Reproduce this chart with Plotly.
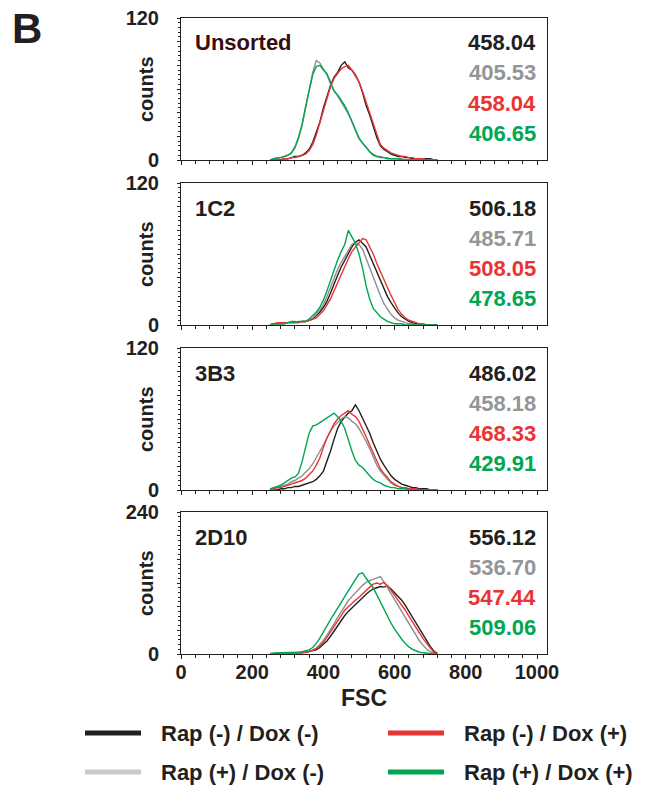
import plotly.graph_objects as go

FSC_BINS = list(range(250, 730, 10))  # 48 bins

PANELS = ["Unsorted", "1C2", "3B3", "2D10"]
Y_MAX = [120, 120, 120, 240]
SERIES = ["Rap (-) / Dox (-)", "Rap (+) / Dox (-)", "Rap (-) / Dox (+)", "Rap (+) / Dox (+)"]
MEANS = [
    ["458.04", "405.53", "458.04", "406.65"],
    ["506.18", "485.71", "508.05", "478.65"],
    ["486.02", "458.18", "468.33", "429.91"],
    ["556.12", "536.70", "547.44", "509.06"],
]

# counts per bin, panel by panel (black, gray, red, green)
UNS_BLACK = [0,0,0,0,1,1,2,3,3,4,6,9,15,23,32,44,53,63,70,74,80,83,78,76,72,66,57,46,38,28,19,12,9,7,5,4,3,3,2,2,1,1,1,1,1,1,0,0]
UNS_GRAY = [0,1,1,2,3,4,6,10,18,29,44,60,74,84,82,77,72,64,59,54,50,45,39,33,26,19,14,11,7,5,3,3,2,2,1,1,1,1,0,0,0,0,0,0,0,0,0,0]
UNS_RED = [0,0,0,0,1,1,2,2,3,4,5,8,13,21,31,42,52,62,69,73,77,79,80,76,71,66,58,49,39,29,20,13,10,8,6,5,4,3,3,2,2,1,1,1,0,0,0,0]
UNS_GREEN = [0,1,2,2,3,4,6,11,19,30,45,58,72,79,80,76,73,66,58,55,51,46,40,32,25,18,14,10,7,4,3,2,2,1,1,1,1,0,0,0,0,0,0,0,0,0,0,0]

C12_BLACK = [0,1,1,1,2,2,2,2,2,3,3,4,5,8,11,15,20,27,35,42,49,55,61,66,70,72,69,66,59,52,45,38,31,24,19,14,10,7,5,3,2,1,1,0,0,0,0,0]
C12_GRAY = [0,1,1,1,1,2,2,2,2,3,3,4,6,9,13,17,24,32,40,47,53,58,63,68,70,68,64,56,48,40,32,25,18,13,9,6,4,3,2,1,1,0,0,0,0,0,0,0]
C12_RED = [0,1,2,2,2,2,3,3,2,3,3,4,5,6,9,12,17,22,29,36,43,50,56,62,66,70,73,72,66,60,52,45,38,31,25,19,13,9,6,4,3,2,1,1,0,0,0,0]
C12_GREEN = [0,1,1,1,1,2,2,2,3,3,3,5,8,11,15,21,29,38,47,55,62,68,80,75,69,60,48,33,22,14,10,7,5,3,2,1,1,1,0,0,0,0,0,0,0,0,0,0]

B33_BLACK = [0,0,0,1,1,2,2,3,3,4,5,6,7,9,12,16,24,33,43,52,58,62,65,67,72,67,61,55,48,40,33,26,21,16,12,9,7,5,4,3,2,2,1,1,1,0,0,0]
B33_GRAY = [0,1,2,3,4,5,7,8,10,12,15,18,22,27,32,38,44,50,54,57,60,62,61,58,56,52,47,41,35,28,21,16,12,9,6,4,3,2,2,1,1,0,0,0,0,0,0,0]
B33_RED = [0,1,2,2,3,4,5,6,7,8,10,13,16,21,27,36,44,50,56,60,63,65,67,64,62,58,52,45,38,31,24,18,14,10,7,5,3,2,2,1,1,1,0,0,0,0,0,0]
B33_GREEN = [1,2,3,4,6,8,10,11,14,24,35,48,54,55,57,59,61,63,65,62,58,52,42,33,25,21,19,15,12,9,7,6,4,3,2,2,1,1,1,0,0,0,0,0,0,0,0,0]

D10_BLACK = [0,1,1,1,1,1,2,2,2,2,3,4,5,7,11,16,22,30,39,48,57,65,72,78,84,90,96,101,106,110,112,114,113,115,110,104,98,91,82,72,62,52,42,32,22,13,5,1]
D10_GRAY = [0,1,1,1,1,2,2,2,2,3,3,4,6,10,16,23,32,41,51,62,72,82,90,97,104,110,116,121,124,126,129,131,122,112,100,90,80,70,60,50,40,31,22,15,8,4,1,0]
D10_RED = [0,1,1,1,2,2,2,2,3,3,3,4,6,9,14,20,28,37,47,57,66,74,80,86,91,96,102,108,113,118,120,118,121,116,108,100,92,84,74,64,54,44,35,26,18,10,3,0]
D10_GREEN = [1,2,2,2,2,3,3,3,3,4,5,7,11,18,27,38,48,58,68,78,88,98,108,118,126,135,137,128,120,112,100,88,75,63,52,42,33,25,18,12,8,5,3,2,1,1,0,0]

COUNTS = [
    [UNS_BLACK, UNS_GRAY, UNS_RED, UNS_GREEN],
    [C12_BLACK, C12_GRAY, C12_RED, C12_GREEN],
    [B33_BLACK, B33_GRAY, B33_RED, B33_GREEN],
    [D10_BLACK, D10_GRAY, D10_RED, D10_GREEN],
]

LINE_COLORS = ["#231f20", "#8e8f92", "#ea3333", "#00a650"]
TEXT_COLORS = ["#231f20", "#939598", "#ea3333", "#00a650"]
LEGEND_COLORS = ["#231f20", "#c8c9cc", "#ea3333", "#00a650"]
LABEL_COLORS = ["#3a0c0c", "#231f20", "#231f20", "#231f20"]

W, H = 660, 789
FONT = "Liberation Sans, Arial, sans-serif"
X_LEFT, X_RIGHT = 181, 547
PANEL_TOPS = [18, 183, 348, 512]
PANEL_H = 142

fig = go.Figure()
layout = dict(
    width=W, height=H, margin=dict(l=0, r=0, t=0, b=0, autoexpand=False),
    paper_bgcolor="white", plot_bgcolor="white", showlegend=False,
    font=dict(family=FONT, color="#231f20"),
)
annotations = []
shapes = []

for p in range(4):
    ax = "" if p == 0 else str(p + 1)
    xa, ya = "x" + ax, "y" + ax
    for s in range(4):
        fig.add_trace(go.Scatter(
            x=FSC_BINS, y=COUNTS[p][s], mode="lines", line_shape="linear",
            line=dict(color=LINE_COLORS[s], width=1.4),
            xaxis=xa, yaxis=ya, name=SERIES[s], showlegend=False,
        ))
    top = PANEL_TOPS[p]
    bot = top + PANEL_H
    ymax = Y_MAX[p]
    step = ymax / 6
    last = p == 3
    layout["xaxis" + ax] = dict(
        domain=[X_LEFT / W, X_RIGHT / W], anchor=ya, automargin=False,
        range=[0, 1000 * (X_RIGHT - X_LEFT) / 356], showgrid=False, zeroline=False,
        showline=True, linecolor="#231f20", linewidth=1, mirror=True,
        ticks="outside", ticklen=4, tickcolor="#231f20",
        tickvals=[0, 200, 400, 600, 800, 1000],
        showticklabels=last, ticklabelstandoff=-4,
        tickfont=dict(size=20, family=FONT, color="#231f20", weight="bold"),
        minor=dict(dtick=40, tick0=0, ticks="outside", ticklen=3, tickcolor="#231f20"),
    )
    layout["yaxis" + ax] = dict(
        domain=[1 - bot / H, 1 - top / H], anchor=xa, automargin=False,
        range=[0, ymax], showgrid=False, zeroline=False,
        showline=True, linecolor="#231f20", linewidth=1, mirror=True,
        ticks="outside", ticklen=3, tickcolor="#231f20",
        tickvals=[i * step for i in range(7)],
        ticktext=["0", "", "", "", "", "", "%d" % ymax],
        ticklabelstandoff=14,
        tickfont=dict(size=20, family=FONT, color="#231f20", weight="bold"),
        minor=dict(dtick=step / 5, tick0=0, ticks="outside", ticklen=2, tickcolor="#231f20"),
    )
    # y-axis title
    annotations.append(dict(
        xref="paper", yref=ya + " domain", x=146 / W, y=0.5, text="<b>counts</b>",
        textangle=-90, showarrow=False, xanchor="center", yanchor="middle",
        font=dict(size=20, family=FONT, color="#231f20"),
    ))
    annotations.append(dict(
        xref=xa + " domain", yref=ya + " domain", x=12 / (X_RIGHT - X_LEFT), y=1 - 25 / PANEL_H,
        text="<b>%s</b>" % PANELS[p], showarrow=False, xanchor="left", yanchor="middle",
        font=dict(size=22, family=FONT, color=LABEL_COLORS[p]),
    ))
    for s in range(4):
        annotations.append(dict(
            xref=xa + " domain", yref=ya + " domain", x=(538 - X_LEFT) / (X_RIGHT - X_LEFT),
            y=1 - (25 + 30 * s) / PANEL_H,
            text="<b>%s</b>" % MEANS[p][s], showarrow=False, xanchor="right", yanchor="middle",
            font=dict(size=22, family=FONT, color=TEXT_COLORS[s]),
        ))

# x-axis title
annotations.append(dict(xref="paper", yref="paper", x=364 / W, y=1 - 698 / H, text="<b>FSC</b>",
                        showarrow=False, xanchor="center", yanchor="middle",
                        font=dict(size=23, family=FONT, color="#231f20")))

# panel letter
annotations.append(dict(xref="paper", yref="paper", x=10 / W, y=1 - 28 / H, text="<b>B</b>",
                        showarrow=False, xanchor="left", yanchor="middle",
                        font=dict(size=42, family=FONT, color="#231f20")))

# legend (2 x 2)
LEG_POS = [(85, 733), (85, 772), (388, 733), (388, 772)]  # black, gray, red, green
for s in range(4):
    lx, ly = LEG_POS[s]
    shapes.append(dict(type="line", xref="paper", yref="paper",
                       x0=lx / W, x1=(lx + 56) / W, y0=1 - ly / H, y1=1 - ly / H,
                       line=dict(color=LEGEND_COLORS[s], width=5)))
    annotations.append(dict(xref="paper", yref="paper", x=(lx + 74) / W, y=1 - ly / H,
                            text="<b>%s</b>" % SERIES[s], showarrow=False,
                            xanchor="left", yanchor="middle",
                            font=dict(size=22, family=FONT, color="#231f20")))

layout["annotations"] = annotations
layout["shapes"] = shapes
fig.update_layout(**layout)
fig.write_html("out.html")
